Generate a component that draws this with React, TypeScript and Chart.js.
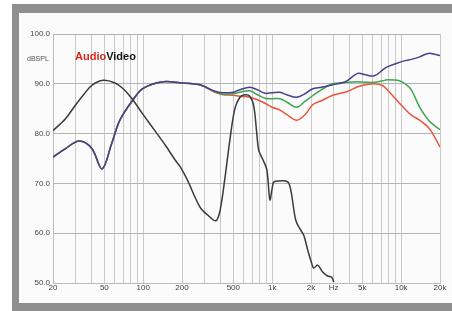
import React, { useEffect, useRef } from "react";
import { Chart, registerables } from "chart.js";

Chart.register(...registerables);

// Frequency grid (Hz) and tick labels
const xGridValues = [20, 30, 40, 50, 60, 70, 80, 90, 100, 200, 300, 400, 500, 600, 700, 800, 900, 1000, 2000, 3000, 4000, 5000, 6000, 7000, 8000, 9000, 10000, 20000];
const xLabelValues = [20, 50, 100, 200, 500, 1000, 2000, 3000, 5000, 10000, 20000];
const xLabelTexts = ["20", "50", "100", "200", "500", "1k", "2k", "Hz", "5k", "10k", "20k"];
const yTickValues = [50, 60, 70, 80, 90, 100];
const yLabelTexts = ["50.0", "60.0", "70.0", "80.0", "90.0", "100.0"];

// Response curves (dB SPL)
const respFreq = [20, 25, 32, 40, 48, 57, 66, 84, 100, 143, 193, 275, 360, 415, 500, 560, 670, 770, 880, 1000, 1150, 1300, 1550, 1800, 2060, 2400, 2950, 3500, 3800, 4600, 5300, 6200, 7200, 7800, 9700, 11000, 12000, 13900, 15700, 17000, 20000];
const blueDb = [75.3, 77, 78.5, 77, 72.9, 78, 82.7, 86.9, 89.1, 90.4, 90.2, 89.8, 88.5, 88.2, 88.3, 88.8, 89.3, 88.8, 88.1, 88.2, 88.3, 87.8, 87.3, 88, 89, 89.3, 89.8, 90.2, 90.6, 92.1, 91.8, 91.6, 92.8, 93.4, 94.3, 94.7, 94.9, 95.4, 96, 96.1, 95.7];
const greenDb = [75.3, 77, 78.5, 77, 72.9, 78, 82.7, 86.9, 89.1, 90.4, 90.2, 89.8, 88.4, 87.9, 88, 88.3, 88.6, 87.8, 87.1, 87, 87, 86.3, 85.3, 86.5, 87.6, 88.8, 90, 90.2, 90.3, 90.4, 90.3, 90.3, 90.6, 90.8, 90.6, 89.8, 88.8, 85.3, 83.2, 82.2, 80.8];
const redDb = [75.3, 77, 78.5, 77, 72.9, 78, 82.7, 86.9, 89.1, 90.4, 90.2, 89.8, 88.3, 87.8, 87.7, 87.5, 87.3, 86.8, 86.1, 85.3, 84.7, 83.8, 82.7, 83.8, 85.8, 86.6, 87.7, 88.2, 88.4, 89.4, 89.8, 90, 89.6, 88.8, 86.1, 84.6, 83.7, 82.7, 81.6, 80.6, 77.3];

const blackFreq = [20, 25, 30, 35, 40, 49, 60, 70, 82, 100, 120, 150, 177, 194, 219, 275, 318, 366, 394, 430, 470, 514, 562, 614, 671, 720, 760, 788, 850, 910, 960, 1000, 1030, 1150, 1320, 1394, 1524, 1664, 1758, 1887, 2022, 2100, 2250, 2462, 2692, 2890, 3000];
const blackDb = [80.6, 83, 85.8, 88, 89.7, 90.7, 90.2, 89, 87, 83.8, 81, 77.5, 74.7, 73.3, 70.8, 65.3, 63.6, 62.5, 64.5, 71, 78.7, 85, 87.3, 87.8, 87.5, 85.5, 80, 76.6, 74.7, 72.7, 66.7, 69, 70.3, 70.5, 70.3, 68.7, 62.6, 60.6, 59.6, 56.6, 54, 53, 53.6, 52.2, 51.4, 51.2, 50.2];

const toPoints = (xs: number[], ys: number[]) => xs.map((x, i) => ({ x, y: ys[i] }));

const textPlugin = {
  id: "texts",
  afterDraw(chart: any) {
    const ctx = chart.ctx;
    const yScale = chart.scales.y;
    ctx.save();
    ctx.textBaseline = "middle";
    ctx.textAlign = "left";
    ctx.font = '7px "Liberation Sans", Arial, sans-serif';
    ctx.fillStyle = "#555";
    ctx.fillText("dBSPL", 27, yScale.getPixelForValue(95));
    ctx.font = 'bold 11px "Liberation Sans", Arial, sans-serif';
    ctx.fillStyle = "#d8261c";
    ctx.fillText("Audio", 75, 57);
    const w = ctx.measureText("Audio").width;
    ctx.fillStyle = "#151515";
    ctx.fillText("Video", 75 + w, 57);
    ctx.restore();
  },
};

export default function App() {
  const ref = useRef<HTMLCanvasElement | null>(null);
  useEffect(() => {
    if (!ref.current) return;
    const lineBase = { pointRadius: 0, borderWidth: 1.5, tension: 0.35, fill: false };
    const chart = new Chart(ref.current, {
      type: "line",
      data: {
        datasets: [
          { ...lineBase, label: "black", data: toPoints(blackFreq, blackDb), borderColor: "#3a3a40" },
          { ...lineBase, label: "blue", data: toPoints(respFreq, blueDb), borderColor: "#4a3f8e" },
          { ...lineBase, label: "green", data: toPoints(respFreq, greenDb), borderColor: "#3fa54f" },
          { ...lineBase, label: "red", data: toPoints(respFreq, redDb), borderColor: "#e8573c" },
        ],
      },
      options: {
        animation: false,
        responsive: false,
        devicePixelRatio: 1,
        layout: { padding: { left: 0, top: 34, right: 12, bottom: 0 } },
        plugins: { legend: { display: false }, tooltip: { enabled: false } },
        scales: {
          x: {
            type: "logarithmic",
            min: 20,
            max: 20000,
            afterBuildTicks: (scale: any) => {
              scale.ticks = xGridValues.map((v) => ({ value: v }));
            },
            afterFit: (scale: any) => {
              scale.height = 28;
            },
            ticks: {
              autoSkip: false,
              maxRotation: 0,
              padding: 0,
              color: "#444",
              font: { size: 8, family: '"Liberation Sans", Arial, sans-serif' },
              callback: (value: any) => {
                const i = xLabelValues.indexOf(Number(value));
                return i >= 0 ? xLabelTexts[i] : "";
              },
            },
            grid: { color: "#c9c9c9", drawTicks: false, lineWidth: 1 },
            border: { display: true, color: "#bbbbbb" },
          },
          y: {
            type: "linear",
            min: 50,
            max: 100,
            afterBuildTicks: (scale: any) => {
              scale.ticks = yTickValues.map((v) => ({ value: v }));
            },
            afterFit: (scale: any) => {
              scale.width = 53;
            },
            ticks: {
              padding: 3,
              color: "#444",
              font: { size: 8, family: '"Liberation Sans", Arial, sans-serif' },
              callback: (value: any) => {
                const i = yTickValues.indexOf(Number(value));
                return i >= 0 ? yLabelTexts[i] : "";
              },
            },
            grid: { color: "#b4b4b4", drawTicks: false, lineWidth: 1 },
            border: { display: true, color: "#bbbbbb" },
          },
        },
      },
      plugins: [textPlugin],
    } as any);
    return () => chart.destroy();
  }, []);

  return (
    <div style={{ position: "fixed", left: 0, top: 0, width: 452, height: 311, background: "#ffffff", overflow: "hidden" }}>
      <div
        style={{
          position: "absolute",
          left: 12,
          top: 4,
          width: 440,
          height: 307,
          boxSizing: "border-box",
          borderLeft: "7px solid #8f8f8f",
          borderTop: "9px solid #8f8f8f",
          borderBottom: "8px solid #8f8f8f",
          background: "#fbfbfb",
        }}
      />
      <canvas ref={ref} width={452} height={311} style={{ position: "absolute", left: 0, top: 0, width: 452, height: 311 }} />
    </div>
  );
}
